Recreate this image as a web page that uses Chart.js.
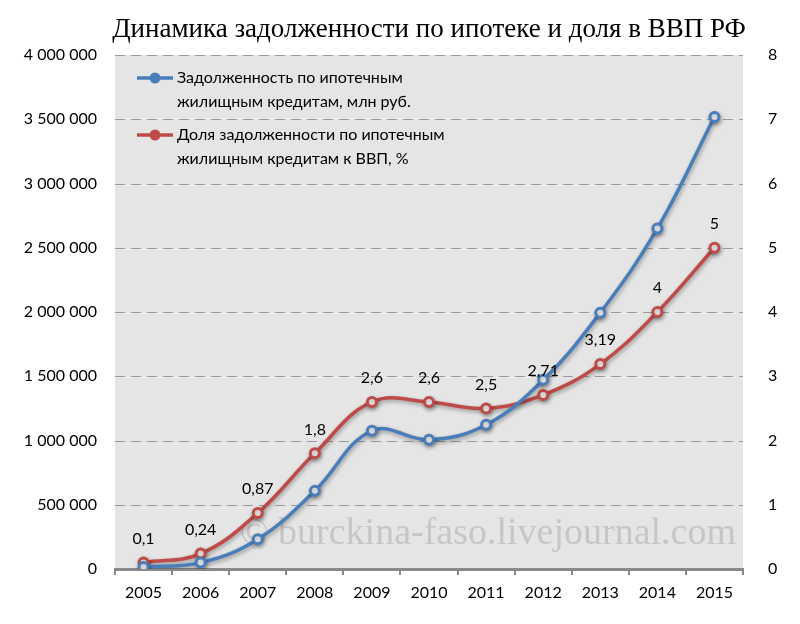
<!DOCTYPE html>
<html>
<head>
<meta charset="utf-8">
<script src="https://cdn.jsdelivr.net/npm/chart.js@4/dist/chart.umd.min.js"></script>
<style>
  html, body { margin: 0; padding: 0; background: #ffffff; }
  #wrap { width: 800px; height: 624px; position: relative; }
</style>
</head>
<body>
<div id="wrap"><canvas id="c" width="800" height="624"></canvas></div>
<script>
// ---- data ----
const titleText = "Динамика задолженности по ипотеке и доля в ВВП РФ";
const years = ["2005", "2006", "2007", "2008", "2009", "2010", "2011", "2012", "2013", "2014", "2015"];
const debtLabel = ["Задолженность по ипотечным", "жилищным кредитам, млн руб."];
const debt = [15000, 50000, 232000, 608000, 1076000, 1006000, 1123000, 1472000, 1994000, 2650000, 3518000];
const shareLabel = ["Доля задолженности по ипотечным", "жилищным кредитам к ВВП, %"];
const share = [0.1, 0.24, 0.87, 1.8, 2.6, 2.6, 2.5, 2.71, 3.19, 4, 5];
const watermark = "© burckina-faso.livejournal.com";

const BLUE = "#4a7ebb";
const RED = "#be4b48";
const SANS = "Lato, 'Open Sans', sans-serif";
const SERIF = "'Liberation Serif', 'DejaVu Serif', serif";

function fmtThousands(v) {
  return String(Math.round(v)).replace(/\B(?=(\d{3})+(?!\d))/g, " ");
}
function fmtComma(v) { return String(v).replace(".", ","); }

const decorPlugin = {
  id: "decor",
  beforeDraw(chart) {
    const { ctx, chartArea: a } = chart;
    ctx.save();
    ctx.fillStyle = "#e5e5e5";
    ctx.fillRect(a.left, a.top, a.right - a.left, a.bottom - a.top);
    // dashed horizontal grid lines from the left scale's ticks
    const ys = chart.scales.y;
    ctx.strokeStyle = "#9a9a9a";
    ctx.lineWidth = 1;
    ctx.setLineDash([10, 6]);
    ys.ticks.forEach(t => {
      const py = Math.round(ys.getPixelForValue(t.value)) + 0.5;
      ctx.beginPath();
      ctx.moveTo(a.left, py);
      ctx.lineTo(a.right, py);
      ctx.stroke();
    });
    ctx.restore();
  },
  beforeDatasetsDraw(chart) {
    const { ctx } = chart;
    ctx.save();
    ctx.font = "38px " + SERIF;
    ctx.fillStyle = "#c6c6c6";
    ctx.textBaseline = "alphabetic";
    ctx.textAlign = "right";
    ctx.fillText(watermark, 736, 544);
    ctx.restore();
  },
  beforeDatasetDraw(chart) {
    const ctx = chart.ctx;
    ctx.save();
    ctx.shadowColor = "rgba(0,0,0,0.35)";
    ctx.shadowBlur = 4;
    ctx.shadowOffsetX = 1;
    ctx.shadowOffsetY = 2;
  },
  afterDatasetDraw(chart) {
    chart.ctx.restore();
  },
  afterDraw(chart) {
    const { ctx } = chart;
    ctx.save();
    // title
    ctx.font = "27px " + SERIF;
    ctx.fillStyle = "#000";
    ctx.textAlign = "center";
    ctx.textBaseline = "alphabetic";
    ctx.fillText(titleText, 429, 37);

    // data labels for share series
    const meta = chart.getDatasetMeta(1);
    ctx.font = "16px " + SANS;
    ctx.textBaseline = "middle";
    ctx.fillStyle = "#000";
    meta.data.forEach((pt, i) => {
      ctx.fillText(fmtComma(share[i]), pt.x, pt.y - 24);
    });

    // legend
    const entries = [
      { color: BLUE, lines: debtLabel, y: 78 },
      { color: RED, lines: shareLabel, y: 135 }
    ];
    entries.forEach(e => {
      ctx.strokeStyle = e.color;
      ctx.lineWidth = 3.5;
      ctx.beginPath();
      ctx.moveTo(137, e.y);
      ctx.lineTo(173, e.y);
      ctx.stroke();
      ctx.fillStyle = e.color;
      ctx.beginPath();
      ctx.arc(155, e.y, 5.5, 0, Math.PI * 2);
      ctx.fill();
      ctx.fillStyle = "#000";
      ctx.textAlign = "left";
      ctx.textBaseline = "middle";
      ctx.font = "16px " + SANS;
      e.lines.forEach((t, k) => ctx.fillText(t, 177, e.y + k * 23.5));
    });
    ctx.restore();
  }
};

new Chart(document.getElementById("c"), {
  type: "line",
  data: {
    labels: years,
    datasets: [
      {
        label: debtLabel.join(" "),
        data: debt,
        yAxisID: "y",
        borderColor: BLUE,
        backgroundColor: "#ffffff",
        borderWidth: 3.5,
        tension: 0.4,
        pointRadius: 4.5,
        pointBorderWidth: 3,
        pointBackgroundColor: "#ffffff",
        pointBorderColor: BLUE
      },
      {
        label: shareLabel.join(" "),
        data: share,
        yAxisID: "y1",
        borderColor: RED,
        backgroundColor: "#ffffff",
        borderWidth: 3.5,
        tension: 0.4,
        pointRadius: 4.5,
        pointBorderWidth: 3,
        pointBackgroundColor: "#ffffff",
        pointBorderColor: RED
      }
    ]
  },
  options: {
    responsive: false,
    animation: false,
    layout: { padding: { top: 55, left: 0, right: 0, bottom: 0 } },
    plugins: {
      legend: { display: false },
      title: { display: false },
      tooltip: { enabled: false }
    },
    scales: {
      x: {
        type: "category",
        offset: true,
        grid: {
          display: true,
          offset: true,
          drawOnChartArea: false,
          drawTicks: true,
          tickLength: 6,
          color: "#8a8a8a",
          lineWidth: 2
        },
        border: { display: true, color: "#8a8a8a", width: 3 },
        ticks: { color: "#000", font: { family: SANS, size: 16 }, padding: 8, maxRotation: 0 },
        afterFit(s) { s.height = 55; }
      },
      y: {
        position: "left",
        min: 0,
        max: 4000000,
        ticks: {
          stepSize: 500000,
          color: "#000",
          font: { family: SANS, size: 16 },
          padding: 18,
          callback: v => fmtThousands(v)
        },
        grid: { display: false, drawTicks: false },
        border: { display: false },
        afterFit(s) { s.width = 115; }
      },
      y1: {
        position: "right",
        min: 0,
        max: 8,
        ticks: {
          stepSize: 1,
          color: "#000",
          font: { family: SANS, size: 16 },
          padding: 17
        },
        grid: { display: false, drawOnChartArea: false },
        border: { display: false },
        afterFit(s) { s.width = 57; }
      }
    }
  },
  plugins: [decorPlugin]
});
</script>
</body>
</html>
